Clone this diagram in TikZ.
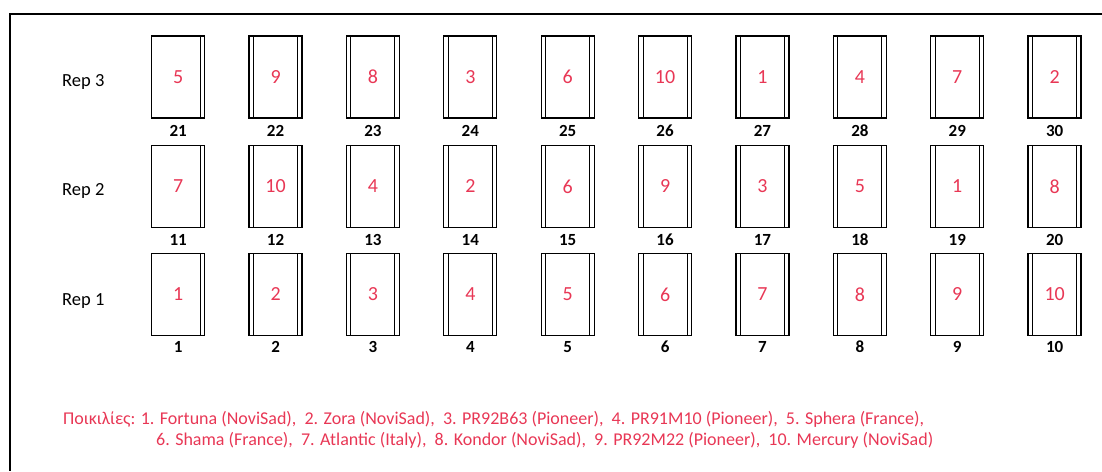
\documentclass[tikz,border=0pt]{standalone}
\usepackage{fontspec}
\setmainfont{Carlito}
\definecolor{plotred}{RGB}{232,55,85}
\begin{document}
\begin{tikzpicture}[x=1pt,y=-1pt,
  plot/.style={draw, line width=1.3pt, minimum width=53pt, minimum height=82pt,
    inner sep=0pt, text=plotred, font=\fontsize{20}{24}\selectfont,
    path picture={
      \ifnum\c>0
        \draw[line width=1pt] ([xshift=4.5pt]path picture bounding box.north west) -- ([xshift=4.5pt]path picture bounding box.south west);
      \fi
      \draw[line width=1pt] ([xshift=-4.5pt]path picture bounding box.north east) -- ([xshift=-4.5pt]path picture bounding box.south east);
    }},
  lab/.style={inner sep=0pt, font=\fontsize{17}{20}\selectfont\bfseries},
  replab/.style={inner sep=0pt, anchor=base west, font=\fontsize{18.5}{22}\selectfont},
  legend/.style={inner sep=0pt, anchor=base west, text=plotred, font=\fontsize{18}{21}\selectfont},
  frame/.style={line width=2pt}
]
\useasboundingbox (0,0) rectangle (1102,471);
% frame
\coordinate (ftl) at (9.5,13.5);
\coordinate (ftr) at (1102,13.5);
\coordinate (fbl) at (9.5,471);
\draw[frame] (ftr) -- (ftl) -- (fbl);
% row labels
\node[replab] (rep3) at (62,86) {Rep 3};
\node[replab] (rep2) at (62,195.5) {Rep 2};
\node[replab] (rep1) at (62,305) {Rep 1};
% Rep 3
\foreach \v [count=\c from 0] in {5,9,8,3,6,10,1,4,7,2} {
  \pgfmathtruncatemacro\n{21+\c}
  \node[plot] (p\n) at (178.2+97.38*\c, 77) {\v};
  \path (p\n.south) ++(0,12) node[lab] (l\n) {\n};
}
% Rep 2
\foreach \v [count=\c from 0] in {7,10,4,2,6,9,3,5,1,8} {
  \pgfmathtruncatemacro\n{11+\c}
  \node[plot] (p\n) at (178.2+97.38*\c, 186.5) {\v};
  \path (p\n.south) ++(0,12) node[lab] (l\n) {\n};
}
% Rep 1
\foreach \v [count=\c from 0] in {1,2,3,4,5,6,7,8,9,10} {
  \pgfmathtruncatemacro\n{1+\c}
  \node[plot] (p\n) at (178.2+97.38*\c, 294.5) {\v};
  \path (p\n.south) ++(0,11) node[lab] (l\n) {\n};
}
% legend
\node[legend] (leg1) at (63,424) {Ποικιλίες: 1. Fortuna (NoviSad),~ 2. Zora (NoviSad),~ 3. PR92B63 (Pioneer),~ 4. PR91M10 (Pioneer),~ 5. Sphera (France),};
\node[legend] (leg2) at (156,445) {6. Shama (France),~ 7. Atlantic (Italy),~ 8. Kondor (NoviSad),~ 9. PR92M22 (Pioneer),~ 10. Mercury (NoviSad)};
\end{tikzpicture}
\end{document}
